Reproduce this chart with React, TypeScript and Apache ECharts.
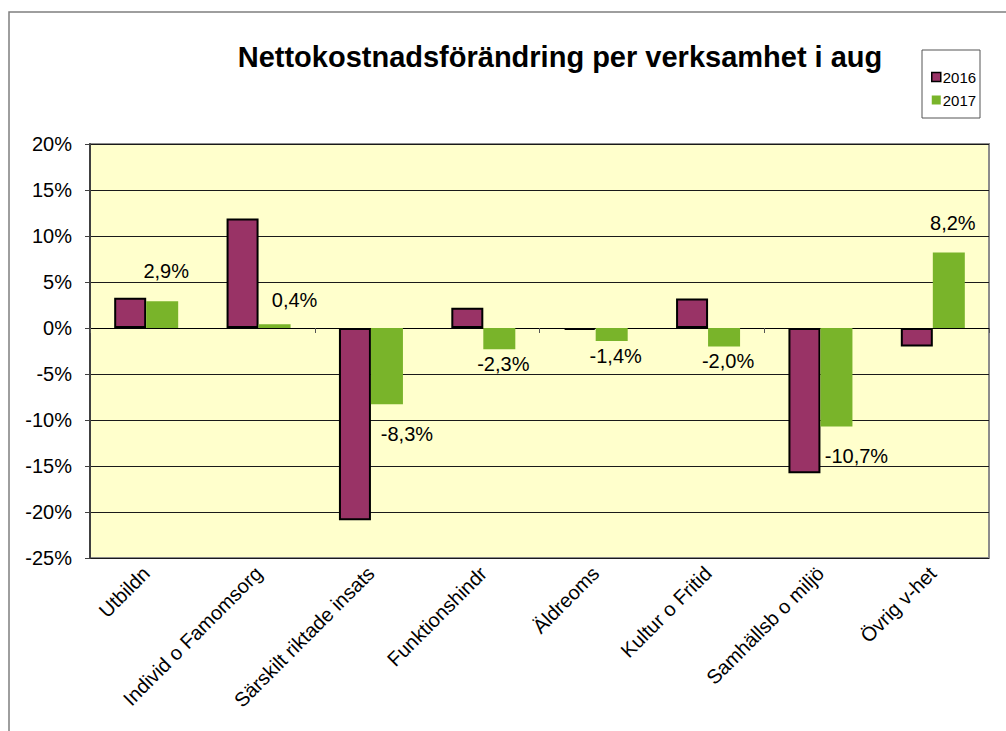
import React, { useEffect, useRef } from "react";
import * as echarts from "echarts";

const categories = [
  "Utbildn",
  "Individ o Famomsorg",
  "Särskilt riktade insats",
  "Funktionshindr",
  "Äldreoms",
  "Kultur o Fritid",
  "Samhällsb o miljö",
  "Övrig v-het",
];
const values2016 = [3.3, 11.9, -20.9, 2.2, -0.2, 3.2, -15.8, -2.0];
const values2017 = [2.9, 0.4, -8.3, -2.3, -1.4, -2.0, -10.7, 8.2];
const yTicks = { min: -25, max: 20, interval: 5 };

const FONT = "'Liberation Sans', Arial, sans-serif";

export default function App() {
  const ref = useRef<HTMLDivElement>(null);
  useEffect(() => {
    document.body.style.margin = "0";
    if (!ref.current) return;
    const chart = echarts.init(ref.current, undefined, { renderer: "svg" });
    const grid = { left: 90, top: 144, width: 899, height: 414 };
    // a label collides with the neighbouring 2016 bar when that bar runs past it in the same direction
    const collides = (i: number) => {
      const a = values2016[i];
      const b = values2017[i];
      return Math.sign(a) === Math.sign(b) && Math.abs(a) > Math.abs(b) + 1;
    };
    chart.setOption({
      animation: false,
      textStyle: { fontFamily: FONT },
      title: {
        text: "Nettokostnadsförändring per verksamhet i aug",
        left: 555,
        top: 37,
        textAlign: "center",
        textStyle: { fontFamily: FONT, fontSize: 29, fontWeight: "bold", color: "#000" },
      },
      graphic: [
        {
          type: "rect",
          shape: { x: 9, y: 12, width: 1010, height: 740 },
          style: { fill: "none", stroke: "#7f7f7f", lineWidth: 1.5 },
          silent: true,
        },
        {
          type: "rect",
          shape: { x: 922, y: 50, width: 58, height: 68 },
          style: { fill: "#fff", stroke: "#555", lineWidth: 1 },
          silent: true,
        },
      ],
      legend: {
        orient: "vertical",
        left: 926,
        top: 64,
        itemGap: 7,
        itemWidth: 9,
        itemHeight: 9,
        icon: "rect",
        textStyle: { fontFamily: FONT, fontSize: 15, color: "#000", lineHeight: 16, padding: [0, 0, 0, -3] },
        data: [
          { name: "2016", itemStyle: { borderColor: "#000", borderWidth: 1.5 } },
          { name: "2017" },
        ],
      },
      grid: {
        ...grid,
        show: true,
        backgroundColor: "#FFFFCC",
        borderColor: "#8c8c8c",
        borderWidth: 2,
      },
      xAxis: [
        {
          type: "category",
          data: categories,
          position: "bottom",
          axisLine: { onZero: true, lineStyle: { color: "#000", width: 1 } },
          axisTick: { show: true, length: 5, lineStyle: { color: "#555" } },
          axisLabel: { show: false },
          splitLine: { show: false },
        },
        {
          type: "category",
          data: categories,
          position: "bottom",
          axisLine: { show: false, onZero: false },
          axisTick: { show: false },
          axisLabel: {
            show: true,
            rotate: 45,
            margin: 12,
            interval: 0,
            fontFamily: FONT,
            fontSize: 20,
            color: "#000",
          },
        },
      ],
      yAxis: {
        type: "value",
        min: yTicks.min,
        max: yTicks.max,
        interval: yTicks.interval,
        axisLine: { show: true, lineStyle: { color: "#404040", width: 2 } },
        axisTick: { show: true, length: 5, lineStyle: { color: "#404040" } },
        axisLabel: {
          margin: 18,
          fontFamily: FONT,
          fontSize: 20,
          color: "#000",
          formatter: (v: number) => v + "%",
        },
        splitLine: { show: true, lineStyle: { color: "#1a1a1a", width: 1 } },
      },
      series: [
        {
          name: "2016",
          type: "bar",
          xAxisIndex: 0,
          data: values2016,
          barWidth: 32,
          barGap: "0%",
          itemStyle: { color: "#993366", borderColor: "#000", borderWidth: 2 },
        },
        {
          name: "2017",
          type: "bar",
          xAxisIndex: 0,
          barWidth: 32,
          barGap: "0%",
          itemStyle: { color: "#79B42A" },
          data: values2017.map((v, i) => {
            const shift = collides(i);
            return {
              value: v,
              label: {
                show: true,
                position: v >= 0 ? "top" : "bottom",
                distance: v >= 0 ? (shift ? 14 : 20) : shift ? 20 : 5,
                offset: [shift ? 20 : 4, 0],
                fontFamily: FONT,
                fontSize: 20,
                color: "#000",
                formatter: () => v.toFixed(1).replace(".", ",") + "%",
              },
            };
          }),
        },
      ],
    });
    return () => chart.dispose();
  }, []);
  return <div ref={ref} style={{ width: 1006, height: 731 }} />;
}
